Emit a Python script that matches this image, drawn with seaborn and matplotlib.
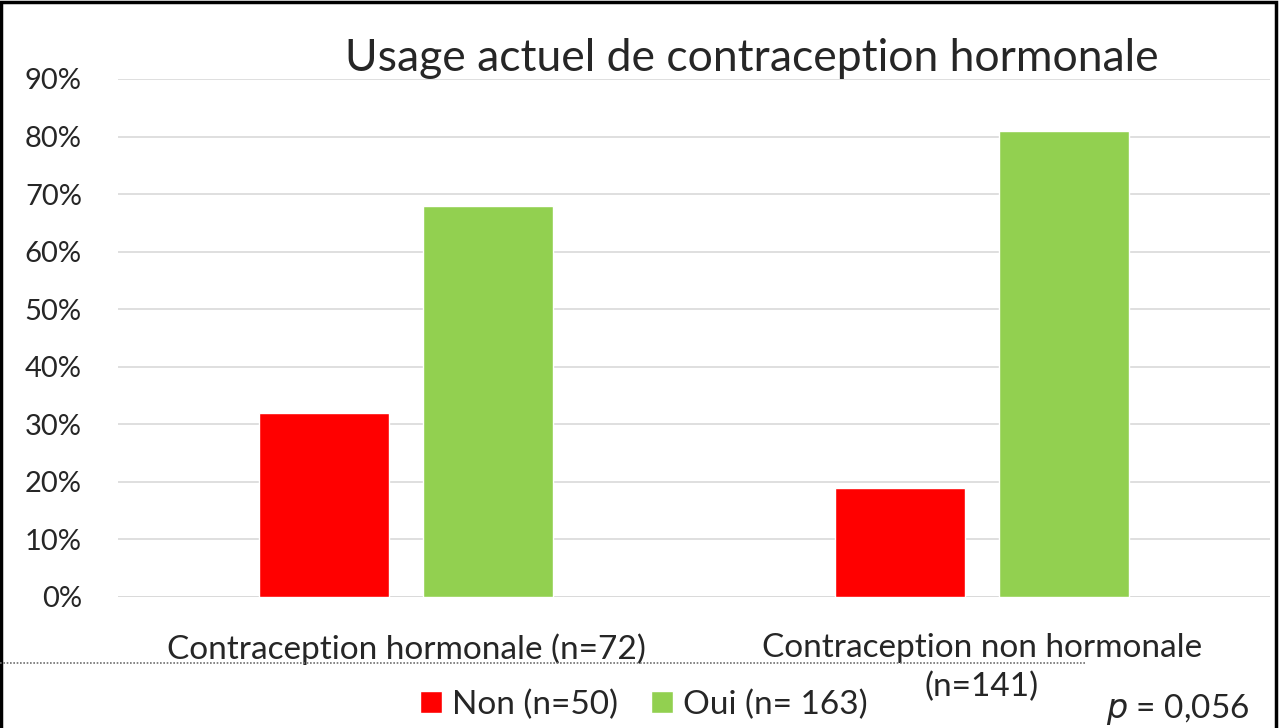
import matplotlib
matplotlib.use('Agg')
import matplotlib.pyplot as plt
import matplotlib.ticker as mtick
from matplotlib.lines import Line2D
from matplotlib.patches import Rectangle
import pandas as pd
import seaborn as sns

# data
categories = ['Contraception hormonale (n=72)', 'Contraception non hormonale']
category_notes = ['', '(n=141)']  # wrapped second line of the tick label
groups = ['Non (n=50)', 'Oui (n= 163)']
non_values = [32, 19]
oui_values = [68, 81]
colors = ['#FF0000', '#92D050']

df = pd.DataFrame({
    'categorie': categories * 2,
    'usage': [groups[0]] * 2 + [groups[1]] * 2,
    'pct': non_values + oui_values,
})

sns.set_style('white')
plt.rcParams['font.family'] = ['Lato', 'DejaVu Sans']

fig = plt.figure(figsize=(12.8, 7.28), dpi=100)
ax = fig.add_axes([0.0922, 0.18, 0.8998, 0.7115])

sns.barplot(data=df, x='categorie', y='pct', hue='usage', palette=colors,
            width=0.57, gap=0.21, saturation=1, ax=ax, legend=True)

ax.set_ylim(0, 90)
ax.set_yticks(range(0, 91, 10))
ax.yaxis.set_major_formatter(mtick.PercentFormatter(decimals=0))
ax.grid(axis='y', color='#d9d9d9', linewidth=1.2)
ax.set_axisbelow(True)
sns.despine(ax=ax, left=True, bottom=True)
ax.axhline(0, color='#d9d9d9', linewidth=1.2, zorder=0)
ax.tick_params(axis='y', labelsize=21, length=0, pad=26)
ax.tick_params(axis='x', labelsize=24, length=0, pad=26)
ax.set_xlabel('')
ax.set_ylabel('')

for i, note in enumerate(category_notes):
    if note:
        ax.annotate(note, xy=(i, 0), xycoords=('data', 'axes fraction'),
                    xytext=(0, -65), textcoords='offset points',
                    ha='center', va='center', fontsize=24)

ax.legend(loc='center', bbox_to_anchor=(0.503, 0.032), bbox_transform=fig.transFigure,
          ncol=2, frameon=False, fontsize=24, handlelength=0.65, handleheight=0.65,
          handletextpad=0.3, columnspacing=1.0, borderpad=0, borderaxespad=0)

fig.text(0.587, 0.92, 'Usage actuel de contraception hormonale', ha='center', va='center',
         fontsize=32)
fig.text(0.864, 0.026, '$p$ = 0,056', ha='left', va='center', fontsize=24)

# dotted separator and frame
fig.add_artist(Line2D([0, 0.848], [1 - 663 / 728] * 2, transform=fig.transFigure,
                      color='#707070', linestyle=(0, (1, 1)), linewidth=1.2))
fig.add_artist(Rectangle((0.001, -0.01), 0.996, 1.007, transform=fig.transFigure,
                         fill=False, edgecolor='black', linewidth=2.5))

fig.savefig('out.png', dpi=100)
